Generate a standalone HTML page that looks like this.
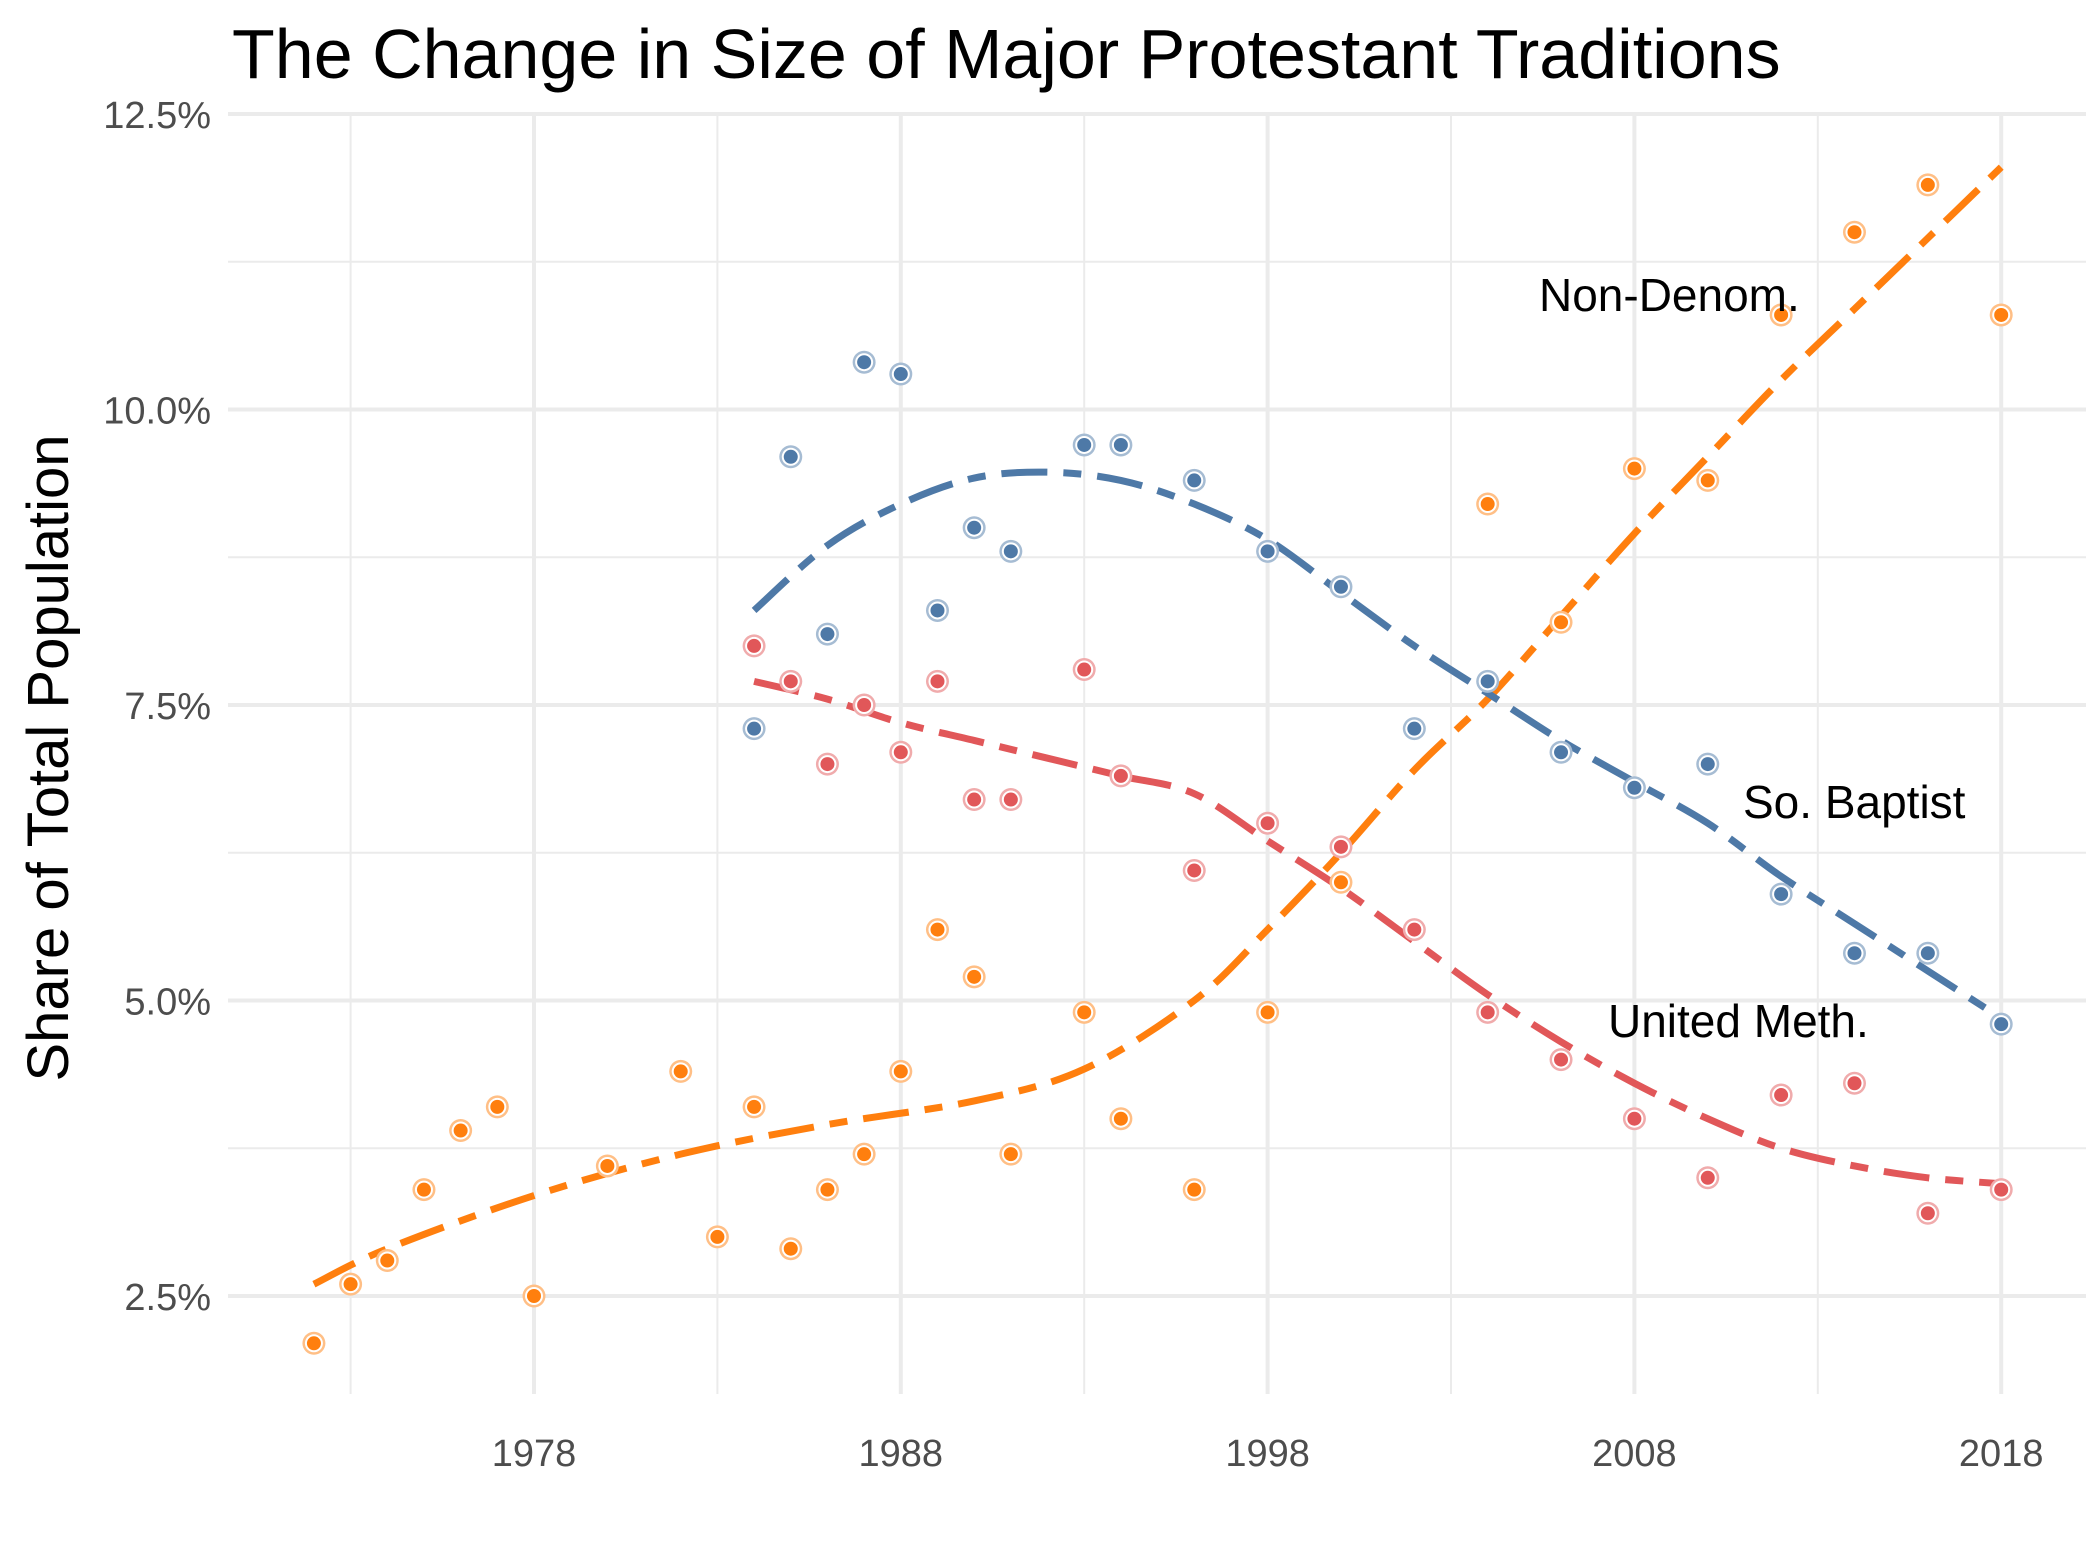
<!DOCTYPE html>
<html><head><meta charset="utf-8"><style>
body{margin:0;background:#fff;}
svg text{font-family:"Liberation Sans",sans-serif;}
</style></head><body>
<svg width="2100" height="1549" viewBox="0 0 2100 1549" xmlns="http://www.w3.org/2000/svg">
<rect width="2100" height="1549" fill="#fff"/>
<g id="grid"></g>
<g id="ticks"></g>
<g id="lines"></g>
<g id="pts"></g>
<text x="232" y="78" font-size="70" fill="#000">The Change in Size of Major Protestant Traditions</text>
<text transform="translate(68,758) rotate(-90)" text-anchor="middle" font-size="58" fill="#000">Share of Total Population</text>
<text x="1539" y="311" font-size="46" fill="#000">Non-Denom.</text>
<text x="1743" y="818" font-size="46" fill="#000">So. Baptist</text>
<text x="1608" y="1037" font-size="46" fill="#000">United Meth.</text>
</svg>
<script>
const xTicks=[1978,1988,1998,2008,2018];
const yTicks=[2.5,5.0,7.5,10.0,12.5];
const yTickLabels=["2.5%","5.0%","7.5%","10.0%","12.5%"];
const ndYears=[1972,1973,1974,1975,1976,1977,1978,1980,1982,1983,1984,1985,1986,1987,1988,1989,1990,1991,1993,1994,1996,1998,2000,2004,2006,2008,2010,2012,2014,2016,2018];
const ndVals=[2.1,2.6,2.8,3.4,3.9,4.1,2.5,3.6,4.4,3.0,4.1,2.9,3.4,3.7,4.4,5.6,5.2,3.7,4.9,4.0,3.4,4.9,6.0,9.2,8.2,9.5,9.4,10.8,11.5,11.9,10.8];
const sbYears=[1984,1985,1986,1987,1988,1989,1990,1991,1993,1994,1996,1998,2000,2002,2004,2006,2008,2010,2012,2014,2016,2018];
const sbVals=[7.3,9.6,8.1,10.4,10.3,8.3,9.0,8.8,9.7,9.7,9.4,8.8,8.5,7.3,7.7,7.1,6.8,7.0,5.9,5.4,5.4,4.8];
const umYears=[1984,1985,1986,1987,1988,1989,1990,1991,1993,1994,1996,1998,2000,2002,2004,2006,2008,2010,2012,2014,2016,2018];
const umVals=[8.0,7.7,7.0,7.5,7.1,7.7,6.7,6.7,7.8,6.9,6.1,6.5,6.3,5.6,4.9,4.5,4.0,3.5,4.2,4.3,3.2,3.4];
const ndSmoothYears=[1972,1974,1978,1982,1986,1990,1993,1996,1998,2000,2002,2004,2006,2008,2010,2012,2014,2016,2018];
const ndSmoothVals=[2.6,2.9,3.35,3.7,3.95,4.15,4.42,5.0,5.6,6.25,6.95,7.55,8.25,8.95,9.6,10.25,10.85,11.45,12.05];
const sbSmoothYears=[1984,1986,1988,1990,1992,1994,1996,1998,2000,2002,2004,2006,2008,2010,2012,2014,2016,2018];
const sbSmoothVals=[8.3,8.85,9.2,9.42,9.47,9.4,9.2,8.9,8.45,8.0,7.6,7.2,6.85,6.5,6.05,5.65,5.25,4.85];
const umSmoothYears=[1984,1986,1988,1990,1992,1994,1996,1998,2000,2002,2004,2006,2008,2010,2012,2014,2016,2018];
const umSmoothVals=[7.7,7.55,7.35,7.2,7.05,6.9,6.75,6.35,5.95,5.5,5.05,4.65,4.3,4.0,3.75,3.6,3.5,3.45];

const NS="http://www.w3.org/2000/svg";
const X=yr=>534+(yr-1978)*36.68;
const Y=v=>114+(12.5-v)*118.2;
const L=228,R=2086,T=114,B=1394;
function mk(tag,attrs,parent){const e=document.createElementNS(NS,tag);for(const k in attrs)e.setAttribute(k,attrs[k]);parent.appendChild(e);return e;}
const grid=document.getElementById('grid');
for(let v=2.5;v<=12.5001;v+=1.25){
  const major=Math.abs(v/2.5-Math.round(v/2.5))<1e-6;
  const ln=mk('line',{x1:L,x2:R,y1:Y(v),y2:Y(v),stroke:'#ebebeb','stroke-width':major?4:2},grid);
  
  
}
for(let yr=1973;yr<=2018;yr+=5){
  const major=(yr-1978)%10===0;
  const ln=mk('line',{x1:X(yr),x2:X(yr),y1:T,y2:B,stroke:'#ebebeb','stroke-width':major?4:2},grid);
  
  
}
const ticks=document.getElementById('ticks');
xTicks.forEach(t=>{const e=mk('text',{x:X(t),y:1466,'text-anchor':'middle','font-size':'38',fill:'#4d4d4d'},ticks);e.textContent=t;
  
  });
yTicks.forEach((t,i)=>{const e=mk('text',{x:211,y:Y(t)+14,'text-anchor':'end','font-size':'38',fill:'#4d4d4d'},ticks);e.textContent=yTickLabels[i];
  
  });
function smoothPath(xs,ys){
  const p=xs.map((x,i)=>[X(x),Y(ys[i])]);
  let d=`M${p[0][0]},${p[0][1]}`;
  for(let i=0;i<p.length-1;i++){
    const p0=p[i-1]||p[i],p1=p[i],p2=p[i+1],p3=p[i+2]||p2;
    const c1=[p1[0]+(p2[0]-p0[0])/6,p1[1]+(p2[1]-p0[1])/6];
    const c2=[p2[0]-(p3[0]-p1[0])/6,p2[1]-(p3[1]-p1[1])/6];
    d+=` C${c1[0]},${c1[1]} ${c2[0]},${c2[1]} ${p2[0]},${p2[1]}`;
  }
  return d;
}
const lines=document.getElementById('lines');
const series=[
 ['non-denom','#ff7f0e','#ffbf86',ndYears,ndVals,ndSmoothYears,ndSmoothVals],
 ['so-baptist','#4e79a7','#a6bcd3',sbYears,sbVals,sbSmoothYears,sbSmoothVals],
 ['united-meth','#e15759','#f0abac',umYears,umVals,umSmoothYears,umSmoothVals]
];
const pts=document.getElementById('pts');
series.forEach(s=>{
  s[3].forEach((yr,i)=>{
    const g=mk('g',{},pts);
    
    
    mk('circle',{cx:X(yr),cy:Y(s[4][i]),r:11.5,fill:s[2]},g);
    mk('circle',{cx:X(yr),cy:Y(s[4][i]),r:9,fill:'#fff'},g);
    mk('circle',{cx:X(yr),cy:Y(s[4][i]),r:7,fill:s[1]},g);
  });
});
series.forEach(s=>{
  const p=mk('path',{d:smoothPath(s[5],s[6]),fill:'none',stroke:s[1],'stroke-width':7,'stroke-dasharray':'46 16 18 16'},lines);
  
  
});
</script>
</body></html>
